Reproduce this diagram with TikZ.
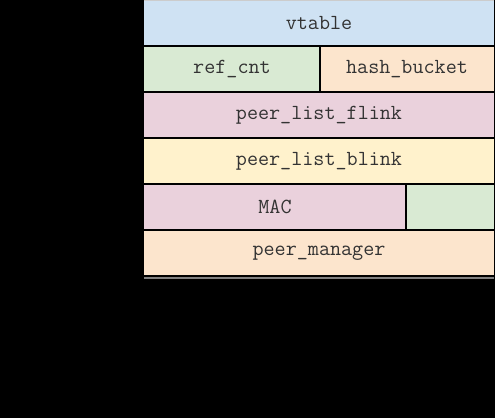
\documentclass[tikz,border=0pt]{standalone}
\definecolor{cblue}{HTML}{CFE2F3}
\definecolor{cgreen}{HTML}{D9EAD3}
\definecolor{corange}{HTML}{FCE5CD}
\definecolor{cpink}{HTML}{EAD1DC}
\definecolor{cyellow}{HTML}{FFF2CC}
\definecolor{ctext}{HTML}{333333}
\tikzset{
  cell/.style={rectangle, anchor=north west, inner sep=0pt, outer sep=0pt,
    minimum height=46pt, text=ctext, font=\fontsize{21.5}{23}\selectfont\ttfamily},
  sep/.style={line width=1.3pt, black}
}
\begin{document}
\begin{tikzpicture}[x=1pt,y=-1pt]
\fill[black] (0,0) rectangle (495,418);
\useasboundingbox (0,0) rectangle (495,418);
\node[cell, fill=cblue, minimum width=350pt] (vt) at (144,0) {vtable};
\node[cell, fill=cgreen, minimum width=176pt] (rc) at (144,46) {ref\_cnt};
\node[cell, fill=corange, minimum width=174pt] (hb) at (320,46) {hash\_bucket};
\node[cell, fill=cpink, minimum width=350pt] (fl) at (144,92) {peer\_list\_flink};
\node[cell, fill=cyellow, minimum width=350pt] (bl) at (144,138) {peer\_list\_blink};
\node[cell, fill=cpink, minimum width=262pt] (mac) at (144,184) {MAC};
\node[cell, fill=cgreen, minimum width=88pt] (gr) at (406,184) {};
\node[cell, fill=corange, minimum width=350pt] (pm) at (144,230) {peer\_manager};
\draw[sep] (vt.south west) -- (vt.south east);
\draw[sep] (rc.north east) -- (rc.south east);
\draw[sep] (fl.north west) -- (fl.north east);
\draw[sep] (fl.south west) -- (fl.south east);
\draw[sep] (bl.south west) -- (bl.south east);
\draw[sep] (mac.north east) -- (mac.south east);
\draw[sep] (pm.north west) -- (pm.north east);
\draw[line width=1.2pt, black] (pm.south west) -- (pm.south east);
\draw[line width=1.6pt, gray] ([yshift=-2pt]pm.south west) -- ([yshift=-2pt]pm.south east);
\draw[line width=0.6pt, gray!40] (vt.north west) -- (vt.north east);
\end{tikzpicture}
\end{document}
